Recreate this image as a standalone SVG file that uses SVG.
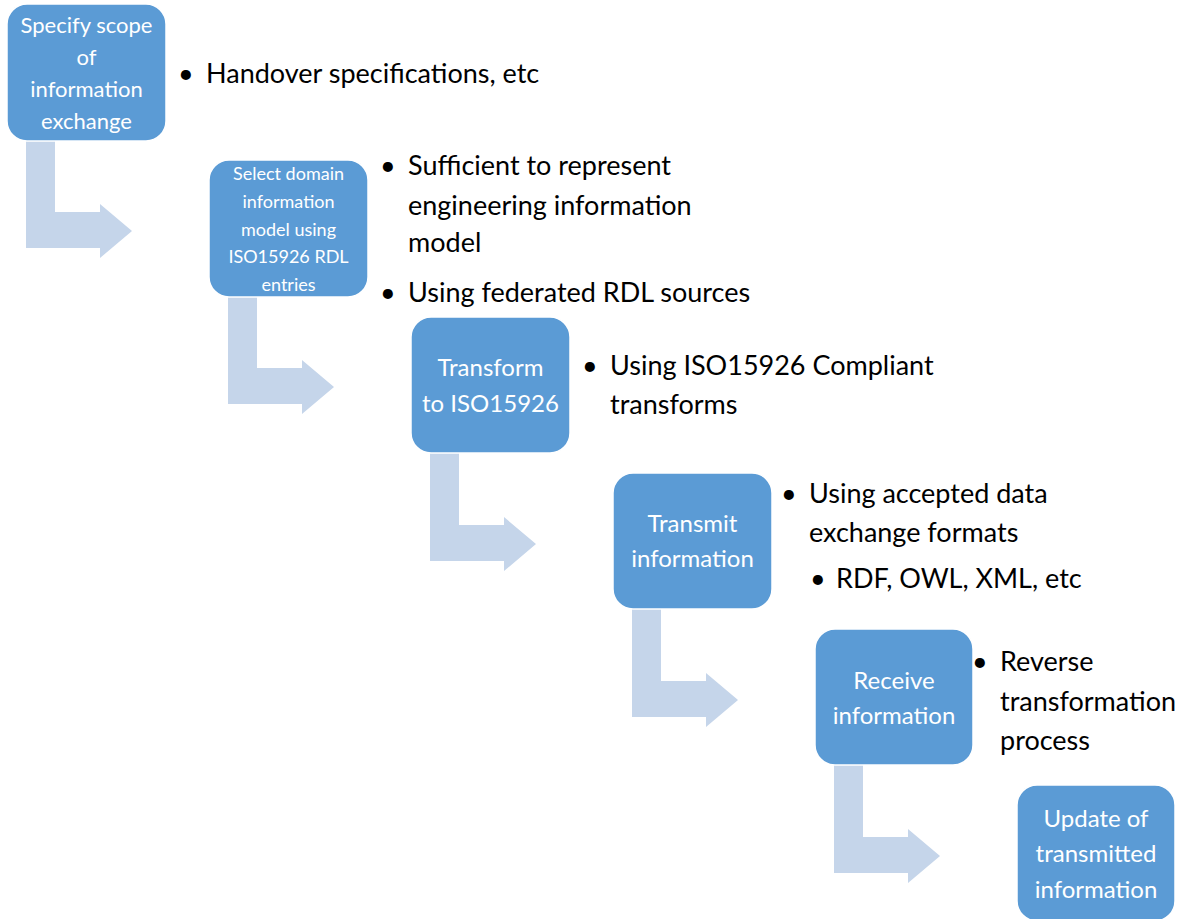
<svg xmlns="http://www.w3.org/2000/svg" width="1196" height="919" viewBox="0 0 1196 919">
<style>
.box{fill:#5B9BD5;stroke:#FFFFFF;stroke-width:1.5}
.arr{fill:#C5D5EA}
.bt{font-family:Lato,"Liberation Sans",sans-serif;fill:#FFFFFF;text-anchor:middle}
.t{font-family:Lato,"Liberation Sans",sans-serif;fill:#000000;font-size:27px}
</style>
<rect width="1196" height="919" fill="#FFFFFF"/>
<g id="connectors">
<path class="arr" d="M26 141 H55 V212 H100 V204 L132 231 L100 258 V248 H26 Z"/>
<path class="arr" d="M228 297 H257 V368 H302 V360 L334 387 L302 414 V404 H228 Z"/>
<path class="arr" d="M430 453 H459 V525 H504 V517 L536 544 L504 571 V561 H430 Z"/>
<path class="arr" d="M632 609 H661 V681 H706 V673 L738 700 L706 727 V717 H632 Z"/>
<path class="arr" d="M834 765 H863 V837 H908 V829 L940 856 L908 883 V873 H834 Z"/>
</g>
<g id="node1">
<rect class="box" x="7" y="4" width="159" height="137" rx="20"/>
<text class="bt" font-size="22" x="86.5" y="33">Specify scope</text>
<text class="bt" font-size="22" x="86.5" y="65">of</text>
<text class="bt" font-size="22" x="86.5" y="97">information</text>
<text class="bt" font-size="22" x="86.5" y="129">exchange</text>
</g>
<g id="note1">
<text class="t" x="178" y="83">•</text>
<text class="t" x="206" y="83">Handover specifications, etc</text>
</g>
<g id="node2">
<rect class="box" x="209" y="160" width="159" height="137" rx="20"/>
<text class="bt" font-size="18" x="288.5" y="180">Select domain</text>
<text class="bt" font-size="18" x="288.5" y="208">information</text>
<text class="bt" font-size="18" x="288.5" y="236">model using</text>
<text class="bt" font-size="18" x="288.5" y="263">ISO15926 RDL</text>
<text class="bt" font-size="18" x="288.5" y="291">entries</text>
</g>
<g id="note2">
<text class="t" x="380" y="175">•</text>
<text class="t" x="408" y="175">Sufficient to represent</text>
<text class="t" x="408" y="215">engineering information</text>
<text class="t" x="408" y="252">model</text>
<text class="t" x="380" y="302">•</text>
<text class="t" x="408" y="302">Using federated RDL sources</text>
</g>
<g id="node3">
<rect class="box" x="411" y="317" width="159" height="136" rx="20"/>
<text class="bt" font-size="24" x="490.5" y="376">Transform</text>
<text class="bt" font-size="24" x="490.5" y="412">to ISO15926</text>
</g>
<g id="note3">
<text class="t" x="582" y="375">•</text>
<text class="t" x="610" y="375">Using ISO15926 Compliant</text>
<text class="t" x="610" y="414">transforms</text>
</g>
<g id="node4">
<rect class="box" x="613" y="473" width="159" height="136" rx="20"/>
<text class="bt" font-size="24" x="692.5" y="532">Transmit</text>
<text class="bt" font-size="24" x="692.5" y="567">information</text>
</g>
<g id="note4">
<text class="t" x="781" y="503">•</text>
<text class="t" x="809" y="503">Using accepted data</text>
<text class="t" x="809" y="542">exchange formats</text>
<text class="t" x="810" y="588">•</text>
<text class="t" x="836" y="588">RDF, OWL, XML, etc</text>
</g>
<g id="node5">
<rect class="box" x="815" y="629" width="158" height="136" rx="20"/>
<text class="bt" font-size="24" x="894" y="689">Receive</text>
<text class="bt" font-size="24" x="894" y="724">information</text>
</g>
<g id="note5">
<text class="t" x="972" y="671">•</text>
<text class="t" x="1000" y="671">Reverse</text>
<text class="t" x="1000" y="711">transformation</text>
<text class="t" x="1000" y="750">process</text>
</g>
<g id="node6">
<rect class="box" x="1017" y="785" width="158" height="136" rx="20"/>
<text class="bt" font-size="24" x="1096" y="827">Update of</text>
<text class="bt" font-size="24" x="1096" y="862">transmitted</text>
<text class="bt" font-size="24" x="1096" y="898">information</text>
</g>
</svg>
